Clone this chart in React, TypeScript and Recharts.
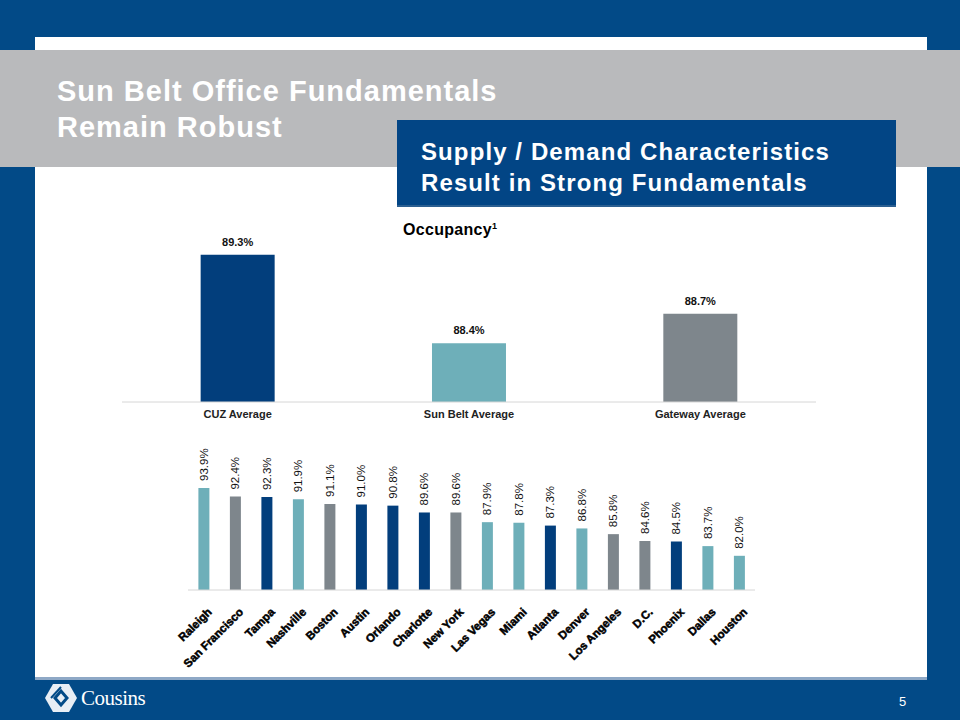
import React from 'react';
import { BarChart, Bar, XAxis, YAxis, Cell, LabelList } from 'recharts';

const summaryLabels = ['CUZ Average', 'Sun Belt Average', 'Gateway Average'];
const summaryValues = [89.3, 88.4, 88.7];
const summaryGroups = ['cuz', 'sunbelt', 'gateway'];

const cityNames = [
  'Raleigh', 'San Francisco', 'Tampa', 'Nashville', 'Boston', 'Austin', 'Orlando', 'Charlotte', 'New York',
  'Las Vegas', 'Miami', 'Atlanta', 'Denver', 'Los Angeles', 'D.C.', 'Phoenix', 'Dallas', 'Houston',
];
const cityValues = [93.9, 92.4, 92.3, 91.9, 91.1, 91.0, 90.8, 89.6, 89.6, 87.9, 87.8, 87.3, 86.8, 85.8, 84.6, 84.5, 83.7, 82.0];
const cityGroups = [
  'sunbelt', 'gateway', 'cuz', 'sunbelt', 'gateway', 'cuz', 'cuz', 'cuz', 'gateway',
  'sunbelt', 'sunbelt', 'cuz', 'sunbelt', 'gateway', 'gateway', 'cuz', 'sunbelt', 'sunbelt',
];

const groupColors: Record<string, string> = {
  cuz: '#023e7c',
  sunbelt: '#6eafb9',
  gateway: '#7e868c',
};

const NAVY = '#024a87';
const FONT = 'Arial, "Liberation Sans", sans-serif';

const summaryData = summaryLabels.map((name, i) => ({ name, value: summaryValues[i], group: summaryGroups[i] }));
const cityData = cityNames.map((name, i) => ({ name, value: cityValues[i], group: cityGroups[i] }));

// rotated city name, anchored at the end under the bar
const CityTick = (props: any) => {
  const { x, y, payload } = props;
  const ax = x + 3;
  const ay = y + 9;
  return (
    <text
      x={ax}
      y={ay}
      transform={`rotate(-45, ${ax}, ${ay})`}
      textAnchor="end"
      fontSize={11.5}
      fontWeight="bold"
      fontFamily={FONT}
      fill="#000"
      stroke="#000"
      strokeWidth={0.5}
      dominantBaseline="hanging"
    >
      {payload.value}
    </text>
  );
};

// vertical value label sitting above each bar
const VerticalLabel = (props: any) => {
  const { x, y, width, value } = props;
  const cx = x + width / 2 + 4;
  const ty = y - 7;
  return (
    <text
      x={cx}
      y={ty}
      transform={`rotate(-90, ${cx}, ${ty})`}
      textAnchor="start"
      fontSize={11.5}
      fontFamily={FONT}
      fill="#111"
    >
      {`${Number(value).toFixed(1)}%`}
    </text>
  );
};

const Logo = () => (
  <div style={{ position: 'absolute', left: 44, top: 683, display: 'flex', alignItems: 'center' }}>
    <svg width={34} height={30} viewBox="0 0 34 30">
      <polygon points="9,1 25,1 33,15 25,29 9,29 1,15" fill="#e8eef5" />
      <path d="M11,15 L17,8 L23,15 L17,22 Z" fill="none" stroke={NAVY} strokeWidth={3} />
      <path d="M7,15 L17,4" fill="none" stroke={NAVY} strokeWidth={2} />
    </svg>
    <span
      style={{
        color: '#fff',
        fontFamily: '"Liberation Serif", "DejaVu Serif", serif',
        fontSize: 21,
        marginLeft: 3,
        letterSpacing: -0.5,
      }}
    >
      Cousins
    </span>
  </div>
);

export default function App() {
  return (
    <div style={{ position: 'relative', width: 960, height: 720, background: NAVY, overflow: 'hidden', fontFamily: FONT }}>
      <style>{`body{margin:0}`}</style>

      {/* white content panel */}
      <div style={{ position: 'absolute', left: 35, top: 37, width: 892, height: 640, background: '#fff' }} />
      <div style={{ position: 'absolute', left: 35, top: 677, width: 892, height: 3, background: '#8ea8c6' }} />

      {/* grey title band */}
      <div style={{ position: 'absolute', left: 0, top: 50, width: 960, height: 117, background: '#b9babc' }} />
      <div
        style={{
          position: 'absolute',
          left: 57,
          top: 73,
          color: '#fff',
          fontSize: 29,
          fontWeight: 'bold',
          letterSpacing: 1,
          lineHeight: '36px',
        }}
      >
        Sun Belt Office Fundamentals
        <br />
        Remain Robust
      </div>

      {/* blue call-out box */}
      <div
        style={{
          position: 'absolute',
          left: 397,
          top: 120,
          width: 499,
          height: 87,
          background: '#024585',
          borderBottom: '2px solid #2b5f91',
          boxSizing: 'border-box',
        }}
      >
        <div
          style={{
            position: 'absolute',
            left: 24,
            top: 16,
            color: '#fff',
            fontSize: 24,
            fontWeight: 'bold',
            letterSpacing: 1.1,
            lineHeight: '31px',
          }}
        >
          Supply / Demand Characteristics
          <br />
          Result in Strong Fundamentals
        </div>
      </div>

      {/* chart title */}
      <div style={{ position: 'absolute', left: 403, top: 221, fontSize: 16, fontWeight: 'bold', color: '#000', letterSpacing: 0.3 }}>
        Occupancy<sup style={{ fontSize: 9 }}>1</sup>
      </div>

      {/* summary chart */}
      <div style={{ position: 'absolute', left: 120, top: 225 }}>
        <BarChart
          width={696}
          height={207}
          data={summaryData}
          margin={{ top: 20, right: 0, bottom: 0, left: 2 }}
          barCategoryGap="34%"
        >
          <XAxis
            dataKey="name"
            axisLine={{ stroke: '#d6d6d6' }}
            tickLine={false}
            height={30}
            tick={{ fontSize: 11, fontWeight: 'bold', fill: '#222', fontFamily: FONT }}
          />
          <YAxis hide domain={[87.8, 89.4]} allowDataOverflow />
          <Bar dataKey="value" isAnimationActive={false}>
            {summaryData.map((d, i) => (
              <Cell key={i} fill={groupColors[d.group]} />
            ))}
            <LabelList
              dataKey="value"
              position="top"
              offset={9}
              formatter={(v: any) => `${Number(v).toFixed(1)}%`}
              style={{ fontSize: 11, fontWeight: 'bold', fill: '#111', fontFamily: FONT }}
            />
          </Bar>
        </BarChart>
      </div>

      {/* market chart */}
      <div style={{ position: 'absolute', left: 160, top: 430 }}>
        <BarChart
          width={620}
          height={250}
          data={cityData}
          margin={{ top: 46, right: 25, bottom: 0, left: 28 }}
          barCategoryGap="33%"
        >
          <XAxis
            dataKey="name"
            interval={0}
            axisLine={{ stroke: '#d6d6d6' }}
            tickLine={false}
            height={90}
            tick={<CityTick />}
          />
          <YAxis hide domain={[76, 96]} allowDataOverflow />
          <Bar dataKey="value" isAnimationActive={false}>
            {cityData.map((d, i) => (
              <Cell key={i} fill={groupColors[d.group]} />
            ))}
            <LabelList dataKey="value" content={<VerticalLabel />} />
          </Bar>
        </BarChart>
      </div>

      <Logo />
      <div style={{ position: 'absolute', left: 899, top: 694, color: '#fff', fontSize: 13 }}>5</div>
    </div>
  );
}
